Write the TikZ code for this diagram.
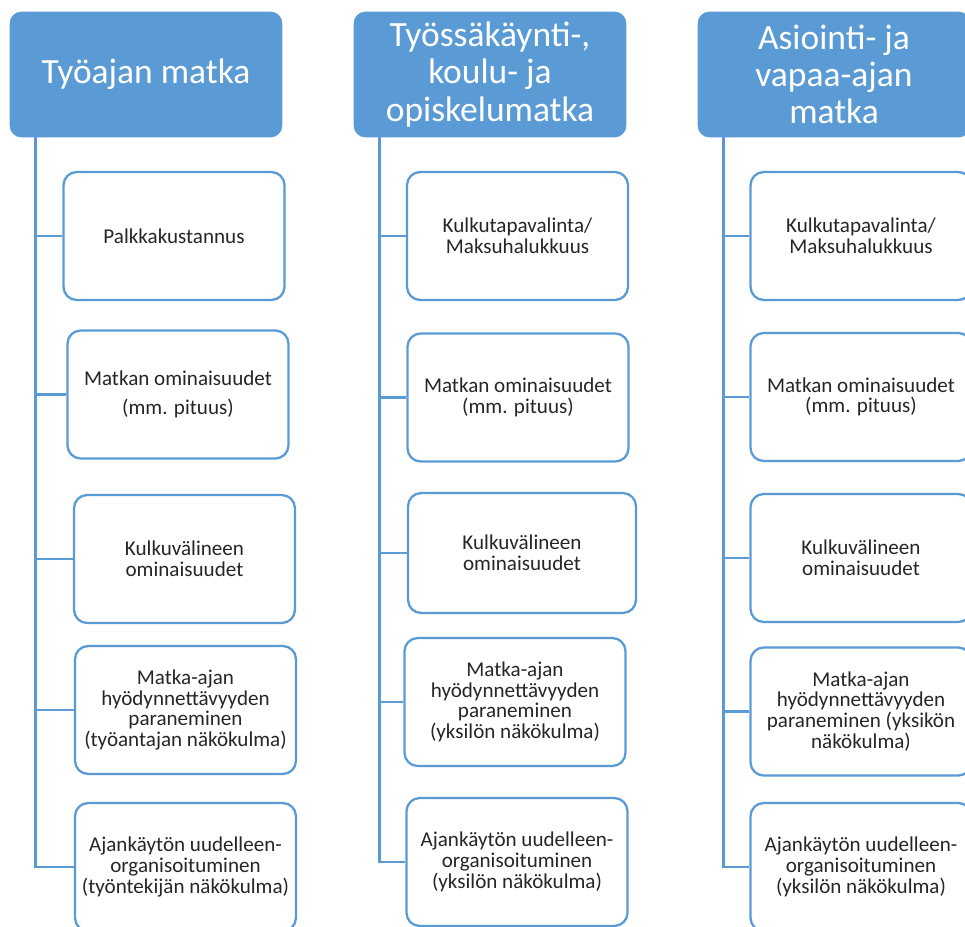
\documentclass[tikz,border=0pt]{standalone}
\usepackage{fontspec}
\setmainfont{Carlito}
\usepackage{xcolor}
\usetikzlibrary{calc}
\definecolor{hdrblue}{HTML}{5B9BD5}
\definecolor{txtgray}{HTML}{262626}
\tikzset{
  otsikko/.style={rectangle, rounded corners=6.5pt, fill=hdrblue, draw=hdrblue, text=white,
    align=center, inner sep=0pt, minimum width=5.44cm, minimum height=2.5cm,
    font=\fontsize{20.2}{21.2}\selectfont},
  laatikko/.style={rectangle, rounded corners=7.5pt, draw=hdrblue, line width=1.3pt, fill=white,
    text=txtgray, align=center, inner sep=0pt, minimum width=4.42cm, minimum height=2.56cm,
    font=\fontsize{12}{11.8}\selectfont},
  haara/.style={draw=hdrblue, line width=1.4pt},
}

\begin{document}
\begin{tikzpicture}[x=0.02cm, y=-0.02cm]
        \useasboundingbox (0,0) rectangle (965,927);
        \fill[white] (0,0) rectangle (965,927);
        \clip (0,0) rectangle (965,927);

        % otsikot
        \node[otsikko] (h1) at (146,74.5) {Työajan matka};
        \node[otsikko] (h2) at (490,74.5) {Työssäkäynti-,\\koulu- ja\\opiskelumatka};
        \node[otsikko] (h3) at (834,74.5) {Asiointi- ja\\vapaa-ajan\\matka};

        % sarake 1
        \node[laatikko] (b11) at (174,236) {Palkkakustannus};
        \node[laatikko] (b12) at (178,394.5) {Matkan ominaisuudet\\[4.5pt](mm. pituus)};
        \node[laatikko] (b13) at (184.5,559) {Kulkuvälineen\\ominaisuudet};
        \node[laatikko] (b14) at (185.5,710) {Matka-ajan\\hyödynnettävyyden\\paraneminen\\(työantajan näkökulma)};
        \node[laatikko] (b15) at (185.5,867) {Ajankäytön uudelleen-\\organisoituminen\\(työntekijän näkökulma)};

        % sarake 2
        \node[laatikko] (b21) at (517.5,236) {Kulkutapavalinta/\\Maksuhalukkuus};
        \node[laatikko] (b22) at (518,397.5) {Matkan ominaisuudet\\(mm. pituus)};
        \node[laatikko, minimum width=4.56cm, minimum height=2.4cm] (b23) at (522,553) {Kulkuvälineen\\ominaisuudet};
        \node[laatikko] (b24) at (515,702) {Matka-ajan\\hyödynnettävyyden\\paraneminen\\(yksilön näkökulma)};
        \node[laatikko] (b25) at (517,862) {Ajankäytön uudelleen-\\organisoituminen\\(yksilön näkökulma)};

        % sarake 3
        \node[laatikko] (b31) at (861,236) {Kulkutapavalinta/\\Maksuhalukkuus};
        \node[laatikko] (b32) at (861,397) {Matkan ominaisuudet\\(mm. pituus)};
        \node[laatikko] (b33) at (861,558) {Kulkuvälineen\\ominaisuudet};
        \node[laatikko] (b34) at (861,711.5) {Matka-ajan\\hyödynnettävyyden\\paraneminen (yksikön\\näkökulma)};
        \node[laatikko] (b35) at (861,867) {Ajankäytön uudelleen-\\organisoituminen\\(yksilön näkökulma)};

        % rungot ja haarat
        \foreach \c in {1,2,3}{
            \coordinate (r\c) at ([xshift=0.52cm]h\c.south west);
            \draw[haara] (r\c) |- (b\c5.west);
            \foreach \k in {1,...,4}
                \draw[haara] (r\c |- b\c\k.west) -- (b\c\k.west);
        }
    \end{tikzpicture}
\end{document}
